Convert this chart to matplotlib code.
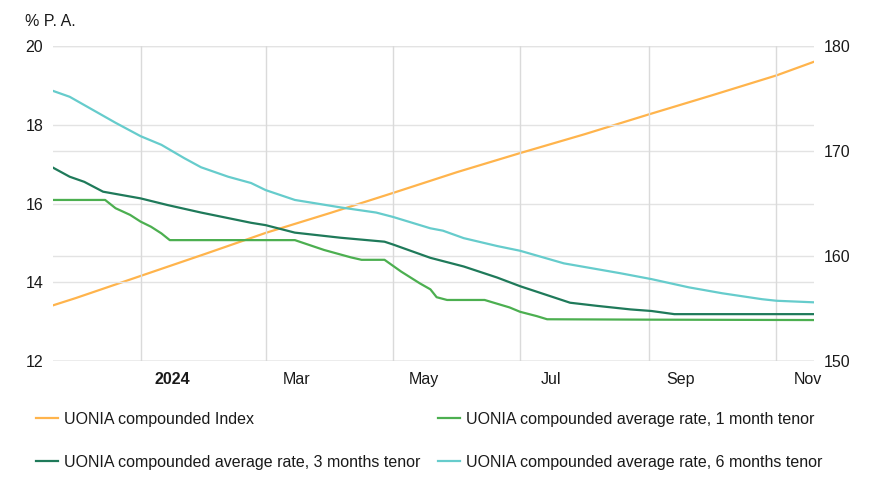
import matplotlib
matplotlib.use("Agg")
import matplotlib.pyplot as plt
import pandas as pd

plt.rcParams['font.family'] = ['Liberation Sans', 'DejaVu Sans']

# UONIA compounded index (right axis)
index_dates = ['2023-11-20', '2023-12-01', '2024-01-01', '2024-02-01', '2024-03-01',
               '2024-04-01', '2024-05-01', '2024-06-01', '2024-07-01', '2024-08-01',
               '2024-09-01', '2024-10-01', '2024-11-01', '2024-11-19']
index_values = [155.3, 156.0, 158.1, 160.2, 162.2, 164.1, 166.0, 168.0, 169.8, 171.6,
                173.5, 175.3, 177.2, 178.5]

# 1 month tenor
m1_dates = ['2023-11-20', '2023-12-15', '2023-12-20', '2023-12-27', '2024-01-01',
            '2024-01-06', '2024-01-11', '2024-01-15', '2024-03-15', '2024-03-29',
            '2024-04-11', '2024-04-16', '2024-04-27', '2024-05-05', '2024-05-14',
            '2024-05-19', '2024-05-22', '2024-05-27', '2024-06-14', '2024-06-26',
            '2024-07-01', '2024-07-09', '2024-07-14', '2024-09-01', '2024-11-19']
m1_values = [16.09, 16.09, 15.88, 15.71, 15.54, 15.41, 15.24, 15.07, 15.07, 14.82,
             14.63, 14.57, 14.57, 14.27, 13.97, 13.82, 13.62, 13.55, 13.55, 13.36,
             13.25, 13.14, 13.06, 13.05, 13.04]

# 3 months tenor
m3_dates = ['2023-11-20', '2023-11-28', '2023-12-05', '2023-12-14', '2024-01-01',
            '2024-01-14', '2024-01-30', '2024-02-23', '2024-03-01', '2024-03-15',
            '2024-04-06', '2024-04-27', '2024-05-01', '2024-05-19', '2024-06-04',
            '2024-06-20', '2024-07-01', '2024-07-25', '2024-08-07', '2024-08-23',
            '2024-09-02', '2024-09-13', '2024-11-19']
m3_values = [16.91, 16.68, 16.55, 16.30, 16.13, 15.96, 15.77, 15.51, 15.45, 15.26,
             15.13, 15.03, 14.96, 14.62, 14.40, 14.12, 13.90, 13.48, 13.40, 13.31,
             13.27, 13.19, 13.19]

# 6 months tenor
m6_dates = ['2023-11-20', '2023-11-28', '2023-12-05', '2023-12-12', '2023-12-20',
            '2024-01-01', '2024-01-11', '2024-01-22', '2024-01-30', '2024-02-12',
            '2024-02-23', '2024-03-01', '2024-03-15', '2024-04-06', '2024-04-23',
            '2024-05-01', '2024-05-19', '2024-05-25', '2024-06-04', '2024-06-20',
            '2024-07-01', '2024-07-22', '2024-08-18', '2024-09-02', '2024-09-20',
            '2024-10-06', '2024-10-25', '2024-11-01', '2024-11-19']
m6_values = [18.86, 18.71, 18.50, 18.29, 18.05, 17.71, 17.49, 17.15, 16.92, 16.68,
             16.52, 16.34, 16.09, 15.90, 15.77, 15.66, 15.37, 15.31, 15.12, 14.92,
             14.80, 14.48, 14.23, 14.08, 13.87, 13.72, 13.57, 13.53, 13.49]

tick_dates = ['2024-01-16', '2024-03-16', '2024-05-16', '2024-07-16', '2024-09-16', '2024-11-16']
tick_labels = ['2024', 'Mar', 'May', 'Jul', 'Sep', 'Nov']
grid_dates = ['2024-01-01', '2024-03-01', '2024-05-01', '2024-07-01', '2024-09-01', '2024-11-01']

c_index = '#ffb44c'
c_m1 = '#4caf50'
c_m3 = '#1f7a5a'
c_m6 = '#66cccc'
text_color = '#1a1a1a'

fig = plt.figure(figsize=(8.91, 5), dpi=100)
ax = fig.add_axes([0.0595, 0.278, 0.8541, 0.63])
ax2 = ax.twinx()

ax.set_ylim(12, 20)
ax2.set_ylim(150, 180)
ax.set_xlim(pd.Timestamp('2023-11-20'), pd.Timestamp('2024-11-19'))

# gridlines for both y axes and month starts
for v in [12, 14, 16, 18, 20]:
    ax.axhline(v, color='#e3e3e3', linewidth=1, zorder=0)
for v in [150, 160, 170, 180]:
    ax2.axhline(v, color='#e3e3e3', linewidth=1, zorder=0)
for d in grid_dates:
    ax.axvline(pd.Timestamp(d), color='#dadada', linewidth=1, zorder=0)
ax.axhline(12, color='#cccccc', linewidth=1, zorder=1)

l3, = ax.plot(pd.to_datetime(m3_dates), m3_values, color=c_m3, linewidth=1.6, zorder=3)
l1, = ax.plot(pd.to_datetime(m1_dates), m1_values, color=c_m1, linewidth=1.6, zorder=3)
l6, = ax.plot(pd.to_datetime(m6_dates), m6_values, color=c_m6, linewidth=1.6, zorder=3)
li, = ax2.plot(pd.to_datetime(index_dates), index_values, color=c_index, linewidth=1.6, zorder=3)

ax.set_zorder(ax2.get_zorder() + 1)
ax.patch.set_visible(False)

for a in (ax, ax2):
    for s in a.spines.values():
        s.set_visible(False)
    a.tick_params(length=0, labelsize=11.5, labelcolor=text_color)

ax.set_yticks([12, 14, 16, 18, 20])
ax.tick_params(axis='y', pad=7)
ax2.set_yticks([150, 160, 170, 180])
ax2.tick_params(axis='y', pad=7)

ax.set_xticks(pd.to_datetime(tick_dates))
ax.set_xticklabels(tick_labels)
ax.tick_params(axis='x', pad=8)
ax.get_xticklabels()[0].set_fontweight('bold')

fig.text(25 / 891, 1 - 21 / 500, '% P. A.', fontsize=11.5, color=text_color, va='center', ha='left')

leg = fig.legend([li, l3, l1, l6],
                 ['UONIA compounded Index',
                  'UONIA compounded average rate, 3 months tenor',
                  'UONIA compounded average rate, 1 month tenor',
                  'UONIA compounded average rate, 6 months tenor'],
                 ncol=2, loc='upper left', bbox_to_anchor=(36 / 891, 1 - 412 / 500),
                 frameon=False, fontsize=11.5, handlelength=1.375, handletextpad=0.375,
                 columnspacing=1.1, labelspacing=1.75, borderaxespad=0, borderpad=0)
for t in leg.get_texts():
    t.set_color(text_color)

fig.savefig('out.png', dpi=100)
